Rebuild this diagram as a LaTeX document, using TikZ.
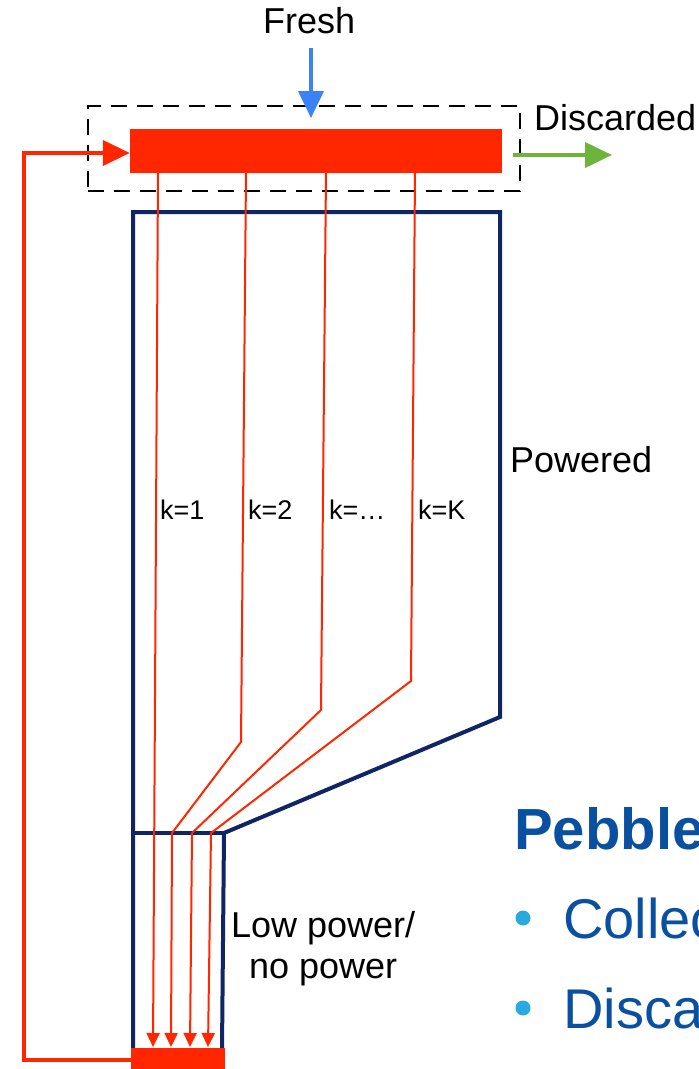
\documentclass[tikz,border=0pt]{standalone}
\usepackage{fontspec}
\setmainfont{Liberation Sans}
\usetikzlibrary{arrows.meta}
\definecolor{pred}{RGB}{255,38,0}
\definecolor{pnavy}{RGB}{15,37,100}
\definecolor{pblue}{RGB}{59,130,246}
\definecolor{pgreen}{RGB}{110,180,60}
\definecolor{ptext}{RGB}{10,80,160}
\definecolor{pbullet}{RGB}{40,170,225}
\tikzset{
  navyline/.style={draw=pnavy,line width=4pt,line join=miter},
  flow/.style={draw=pred,line width=2pt,-{Triangle[width=13pt,length=14pt]}},
  bigarrow/.style={line width=4pt,-{Triangle[width=25pt,length=27pt]}},
  lbl/.style={anchor=base west,inner sep=0pt,font=\fontsize{36}{42}\selectfont},
  klbl/.style={anchor=base west,inner sep=0pt,font=\fontsize{27}{30}\selectfont},
  bigtxt/.style={anchor=base west,inner sep=0pt,text=ptext,font=\fontsize{56}{64}\selectfont},
  bullet/.style={circle,fill=pbullet,inner sep=0pt,minimum size=15pt}
}
\begin{document}
\begin{tikzpicture}[x=1pt,y=-1pt]
\useasboundingbox (0,0) rectangle (699,1069);
\clip (0,0) rectangle (699,1069);
\fill[white] (0,0) rectangle (699,1069);
% navy outline
\draw[navyline] (133,1050) -- (133,212) -- (500,212) -- (500,717) -- (224,833) -- (222,1050);
\draw[navyline] (133,833) -- (224,833);
% dashed box
\node[draw=black,line width=2pt,dash pattern=on 16pt off 10pt,minimum width=432pt,minimum height=85pt,inner sep=0pt] (dbox) at (304,148) {};
% red bar and bottom pool
\node[fill=pred,minimum width=372pt,minimum height=44pt,inner sep=0pt] (bar) at (316,151) {};
\node[fill=pred,minimum width=94pt,minimum height=24pt,inner sep=0pt] (pool) at (178,1060) {};
% fresh input
\node[lbl] (fresh) at (263,33) {Fresh};
\coordinate (freshstart) at (311,48);
\draw[bigarrow,draw=pblue] (freshstart) -- (311,118);
% discarded output
\node[lbl] (disc) at (534,130) {Discarded};
\coordinate (discs) at (513,155);
\coordinate (disce) at (612,155);
\draw[bigarrow,draw=pgreen] (discs) -- (disce);
% recirculation
\draw[bigarrow,draw=pred] (pool.west) -- (24,1060) -- (24,153) -- (bar.west |- 0,153);
% flow lines
\draw[flow] (158,173) -- (153,1047);
\draw[flow] (246,173) -- (241,742) -- (172,833) -- (171,1047);
\draw[flow] (326,173) -- (321,710) -- (192,833) -- (190,1047);
\draw[flow] (415,173) -- (411,681) -- (211,833) -- (208,1047);
% labels
\node[klbl] (k1) at (160,519) {k=1};
\node[klbl] (k2) at (248,519) {k=2};
\node[klbl] (k3) at (329,519) {k=\dots};
\node[klbl] (kK) at (418,519) {k=K};
\node[lbl] (pow) at (510,472) {Powered};
\node[lbl] (low1) at (231,937) {Low power/};
\node[lbl] (low2) at (249,978) {no power};
% side text
\node[bigtxt,font=\fontsize{58}{66}\bfseries\selectfont] (peb) at (514,849) {Pebble};
\node[bullet] (b1) at (523,918) {};
\node[bigtxt] (t1) at (563,938) {Collec};
\node[bullet] (b2) at (523,1008) {};
\node[bigtxt] (t2) at (563,1028) {Disca};
\end{tikzpicture}
\end{document}
